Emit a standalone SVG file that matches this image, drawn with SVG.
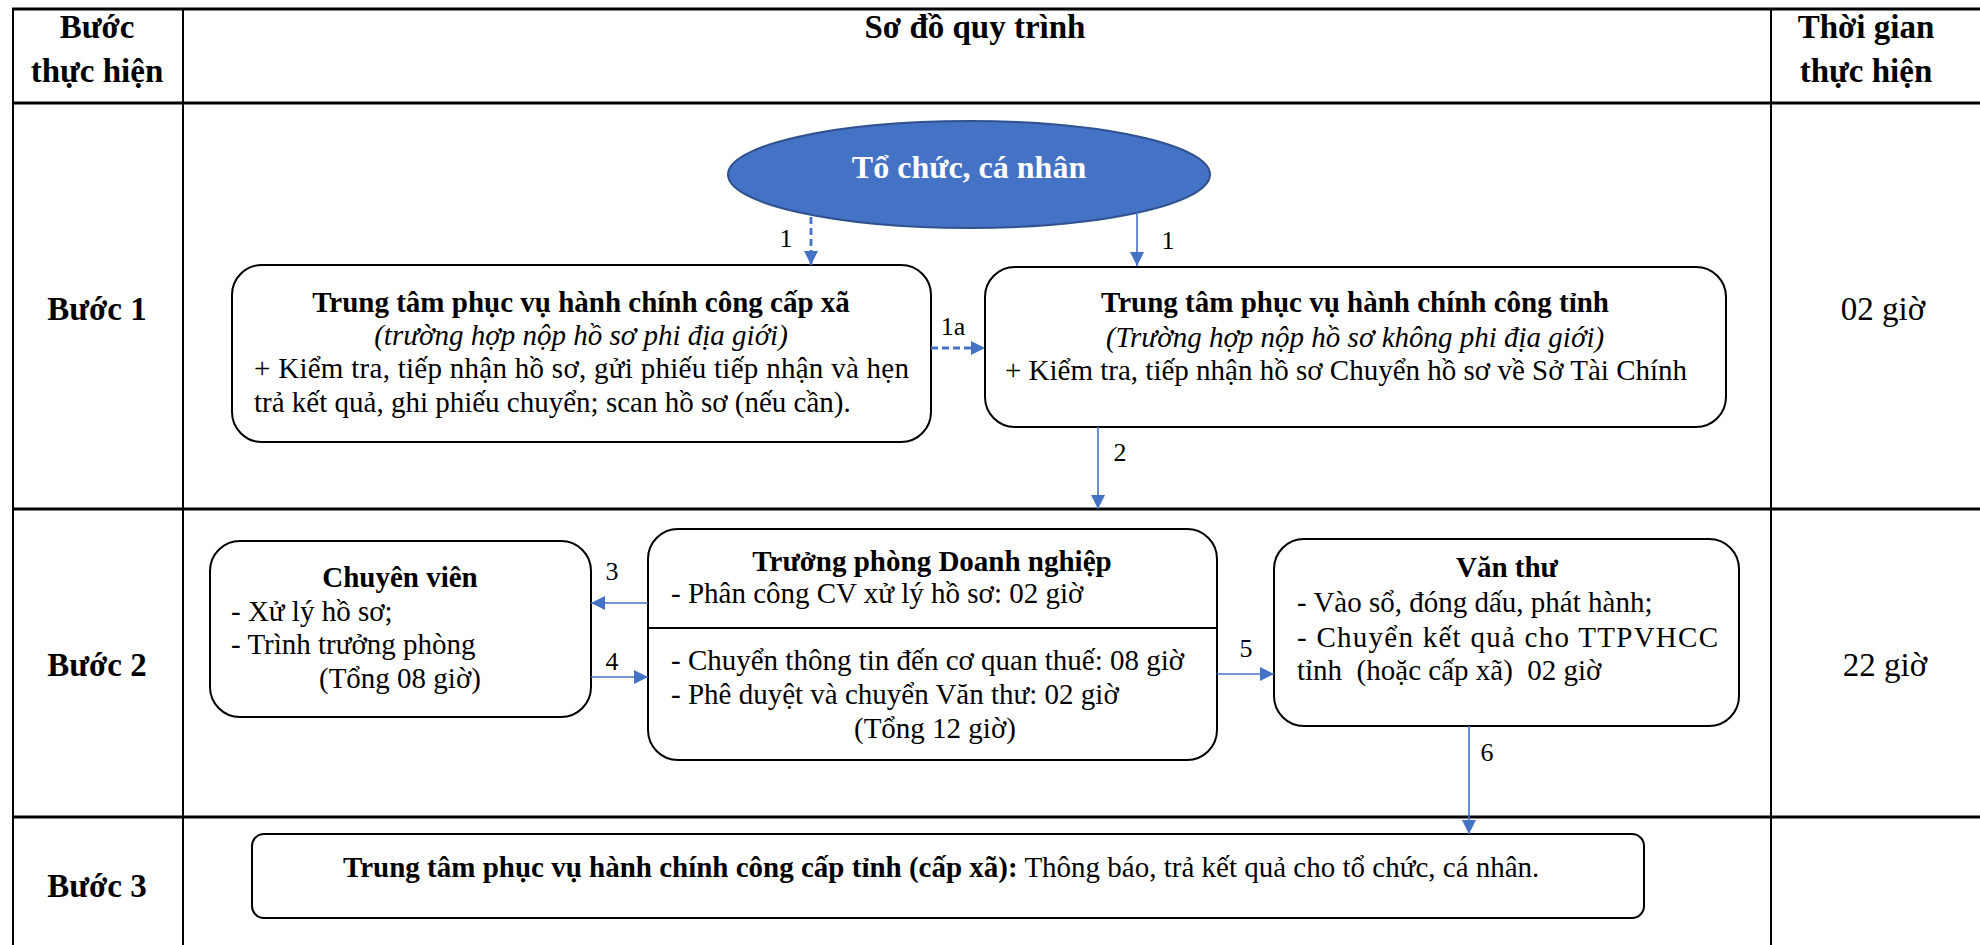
<svg xmlns="http://www.w3.org/2000/svg" width="1980" height="945" viewBox="0 0 1980 945">
<defs>
<marker id="ah" viewBox="0 0 14 14" refX="14" refY="7" markerWidth="14" markerHeight="14" markerUnits="userSpaceOnUse" orient="auto"><path d="M0,0 L14,7 L0,14 z" fill="#4472C4"/></marker>
</defs>
<style>
text{font-family:"Liberation Serif","Times New Roman",serif;fill:#000}
.hd{font-size:33px;font-weight:bold;text-anchor:middle}
.tm{font-size:33px;text-anchor:middle}
.t{font-size:29px}
.b{font-weight:bold}
.c{text-anchor:middle}
.i{font-style:italic}
.lbl{font-size:26px;text-anchor:middle}
.box{fill:#fff;stroke:#000;stroke-width:2}
.grid{stroke:#000;fill:none}
.arr{stroke:#4472C4;stroke-width:1.6;fill:none;marker-end:url(#ah)}
.dash{stroke-width:2.8;stroke-dasharray:7,4}
</style>
<rect width="1980" height="945" fill="#fff"/>
<g id="table">
<line class="grid" x1="12" y1="9" x2="1980" y2="9" stroke-width="3"/>
<line class="grid" x1="12" y1="103" x2="1980" y2="103" stroke-width="3"/>
<line class="grid" x1="12" y1="509" x2="1980" y2="509" stroke-width="3"/>
<line class="grid" x1="12" y1="817" x2="1980" y2="817" stroke-width="3"/>
<line class="grid" x1="13" y1="8" x2="13" y2="945" stroke-width="2"/>
<line class="grid" x1="183" y1="8" x2="183" y2="945" stroke-width="2"/>
<line class="grid" x1="1771" y1="8" x2="1771" y2="945" stroke-width="2"/>
<text class="hd" x="97" y="38">Bước</text>
<text class="hd" x="97" y="82">thực hiện</text>
<text class="hd" x="975" y="38">Sơ đồ quy trình</text>
<text class="hd" x="1866" y="38">Thời gian</text>
<text class="hd" x="1866" y="82">thực hiện</text>
<text class="hd" x="97" y="320">Bước 1</text>
<text class="hd" x="97" y="676">Bước 2</text>
<text class="hd" x="97" y="897">Bước 3</text>
<text class="tm" x="1883" y="320">02 giờ</text>
<text class="tm" x="1885" y="676">22 giờ</text>
</g>
<g id="n-tochuc">
<ellipse cx="969" cy="174.5" rx="241" ry="53.5" fill="#4472C4" stroke="#2F528F" stroke-width="2"/>
<text x="969" y="178" style="font-size:32px;font-weight:bold;text-anchor:middle;fill:#fff">Tổ chức, cá nhân</text>
</g>
<g id="n-xa">
<rect class="box" x="232" y="265" width="699" height="177" rx="30"/>
<text class="t b c" x="581" y="312">Trung tâm phục vụ hành chính công cấp xã</text>
<text class="t i c" x="581" y="345">(trường hợp nộp hồ sơ phi địa giới)</text>
<text class="t" x="254" y="378" textLength="655" lengthAdjust="spacing">+ Kiểm tra, tiếp nhận hồ sơ, gửi phiếu tiếp nhận và hẹn</text>
<text class="t" x="254" y="412">trả kết quả, ghi phiếu chuyển; scan hồ sơ (nếu cần).</text>
</g>
<g id="n-tinh">
<rect class="box" x="985" y="267" width="741" height="160" rx="30"/>
<text class="t b c" x="1355" y="312">Trung tâm phục vụ hành chính công tỉnh</text>
<text class="t i c" x="1355" y="347">(Trường hợp nộp hồ sơ không phi địa giới)</text>
<text class="t" x="1005" y="380">+ Kiểm tra, tiếp nhận hồ sơ Chuyển hồ sơ về Sở Tài Chính</text>
</g>
<g id="n-chuyenvien">
<rect class="box" x="210" y="541" width="381" height="176" rx="30"/>
<text class="t b c" x="400" y="587">Chuyên viên</text>
<text class="t" x="231" y="621">- Xử lý hồ sơ;</text>
<text class="t" x="231" y="654">- Trình trưởng phòng</text>
<text class="t" x="319" y="688">(Tổng 08 giờ)</text>
</g>
<g id="n-truongphong">
<rect class="box" x="648" y="529" width="569" height="231" rx="30"/>
<line x1="648" y1="628" x2="1217" y2="628" stroke="#000" stroke-width="2"/>
<text class="t b c" x="932" y="571">Trưởng phòng Doanh nghiệp</text>
<text class="t" x="671" y="603">- Phân công CV xử lý hồ sơ: 02 giờ</text>
<text class="t" x="671" y="670">- Chuyển thông tin đến cơ quan thuế: 08 giờ</text>
<text class="t" x="671" y="704">- Phê duyệt và chuyển Văn thư: 02 giờ</text>
<text class="t" x="854" y="738">(Tổng 12 giờ)</text>
</g>
<g id="n-vanthu">
<rect class="box" x="1274" y="539" width="465" height="187" rx="30"/>
<text class="t b c" x="1507" y="577">Văn thư</text>
<text class="t" x="1297" y="612">- Vào sổ, đóng dấu, phát hành;</text>
<text class="t" x="1297" y="647" textLength="421" lengthAdjust="spacing">- Chuyển kết quả cho TTPVHCC</text>
<text class="t" x="1297" y="680" style="white-space:pre">tỉnh  (hoặc cấp xã)  02 giờ</text>
</g>
<g id="n-traketqua">
<rect class="box" x="252" y="834" width="1392" height="84" rx="12"/>
<text class="t" x="343" y="877"><tspan class="b">Trung tâm phục vụ hành chính công cấp tỉnh (cấp xã):</tspan> Thông báo, trả kết quả cho tổ chức, cá nhân.</text>
</g>
<g id="connectors">
<line class="arr dash" x1="811" y1="217" x2="811" y2="265"/>
<text class="lbl" x="786" y="247">1</text>
<line class="arr" x1="1137" y1="212" x2="1137" y2="266"/>
<text class="lbl" x="1168" y="249">1</text>
<line class="arr" x1="931" y1="348" x2="985" y2="348" style="stroke-width:2.8;stroke-dasharray:7,4"/>
<text class="lbl" x="953" y="335">1a</text>
<line class="arr" x1="1098" y1="427" x2="1098" y2="509"/>
<text class="lbl" x="1120" y="461">2</text>
<line class="arr" x1="648" y1="603" x2="591" y2="603"/>
<text class="lbl" x="612" y="580">3</text>
<line class="arr" x1="591" y1="677" x2="648" y2="677"/>
<text class="lbl" x="612" y="670">4</text>
<line class="arr" x1="1217" y1="674" x2="1274" y2="674"/>
<text class="lbl" x="1246" y="657">5</text>
<line class="arr" x1="1469" y1="726" x2="1469" y2="834"/>
<text class="lbl" x="1487" y="761">6</text>
</g>
</svg>
